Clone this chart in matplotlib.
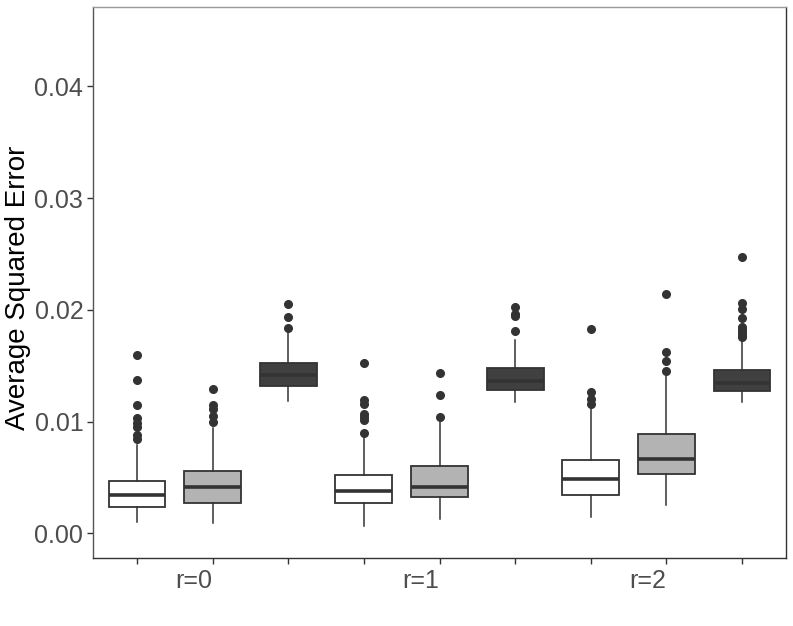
import matplotlib
matplotlib.use("Agg")
import matplotlib.pyplot as plt

plt.rcParams['font.family'] = ['Liberation Sans', 'DejaVu Sans']

groups = ["r=0", "r=1", "r=2"]
fills = ["#FFFFFF", "#B3B3B3", "#404040"]

# order: r0 white, r0 gray, r0 dark, r1 white, ...
q1 = [0.00234, 0.00276, 0.01320, 0.00276, 0.00327, 0.01285, 0.00342, 0.00533, 0.01276]
med = [0.00345, 0.00416, 0.01416, 0.00383, 0.00419, 0.01365, 0.00485, 0.00667, 0.01350]
q3 = [0.00473, 0.00557, 0.01529, 0.00521, 0.00604, 0.01482, 0.00661, 0.00888, 0.01464]
whislo = [0.00100, 0.00091, 0.01189, 0.00067, 0.00127, 0.01174, 0.00151, 0.00252, 0.01174]
whishi = [0.00792, 0.00941, 0.01822, 0.00890, 0.01001, 0.01732, 0.01145, 0.01410, 0.01732]
outliers = [
    [0.0160, 0.01374, 0.0115, 0.01031, 0.00986, 0.0095, 0.00882, 0.00846],
    [0.01291, 0.0115, 0.01112, 0.01052, 0.01001],
    [0.01837, 0.01932, 0.02055],
    [0.01526, 0.01195, 0.01156, 0.0107, 0.01046, 0.01013, 0.00902],
    [0.01043, 0.0124, 0.01437],
    [0.01813, 0.01941, 0.01965, 0.02028],
    [0.01825, 0.01267, 0.01201, 0.01159],
    [0.01452, 0.01541, 0.01622, 0.02138],
    [0.01757, 0.01777, 0.01798, 0.01822, 0.01843, 0.01923, 0.02007, 0.02064, 0.02473],
]
tick_labels = ["", "r=0", "", "", "r=1", "", "", "r=2", ""]

fig = plt.figure(figsize=(7.93, 6.26), dpi=100)
ax = fig.add_axes([93/793, 1 - 558/626, (786-93)/793, (558-7)/626])

stats = []
for i in range(9):
    stats.append(dict(q1=q1[i], med=med[i], q3=q3[i], whislo=whislo[i],
                      whishi=whishi[i], fliers=outliers[i]))
positions = list(range(1, 10))
bp = ax.bxp(stats, positions=positions, widths=0.75, patch_artist=True,
            showcaps=False,
            boxprops=dict(edgecolor="#333333", linewidth=1.3),
            medianprops=dict(color="#333333", linewidth=2.6),
            whiskerprops=dict(color="#333333", linewidth=1.1),
            flierprops=dict(marker="o", markerfacecolor="#333333",
                            markeredgecolor="#333333", markersize=5.5))
for i, patch in enumerate(bp['boxes']):
    patch.set_facecolor(fills[i % 3])

ax.set_xlim(0.42, 9.58)
ax.set_ylim(-0.0022, 0.0471)
ax.set_yticks([0.0, 0.01, 0.02, 0.03, 0.04])
ax.set_yticklabels(["0.00", "0.01", "0.02", "0.03", "0.04"])
ax.set_xticks(positions)
ax.set_xticklabels(tick_labels, ha="right")
ax.tick_params(axis="both", colors="#333333", labelcolor="#4D4D4D",
               labelsize=18, length=4, width=1)
ax.tick_params(axis="x", pad=4)
ax.tick_params(axis="y", pad=3)
ax.set_ylabel("Average Squared Error", fontsize=20, color="black")
ax.yaxis.set_label_coords(-0.0895, 0.49)

ax.spines['top'].set_color("#999999")
ax.spines['right'].set_color("#333333")
ax.spines['left'].set_color("#555555")
ax.spines['bottom'].set_color("#333333")
for s in ax.spines.values():
    s.set_linewidth(1.0)

fig.savefig("out.png", dpi=100)
